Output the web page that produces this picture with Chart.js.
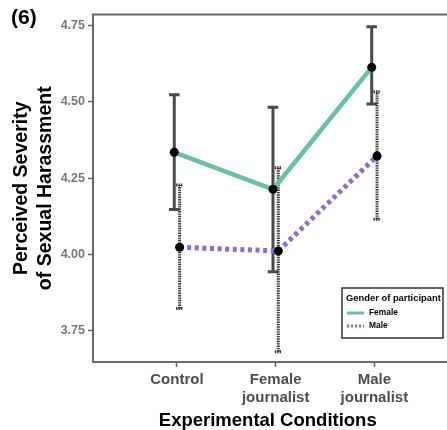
<!DOCTYPE html>
<html><head><meta charset="utf-8">
<script src="https://cdn.jsdelivr.net/npm/chart.js@4.4.1/dist/chart.umd.min.js"></script>
<style>html,body{margin:0;padding:0;background:#fff;overflow:hidden}#wrap{width:447px;height:430px;position:relative}</style>
</head><body><div id="wrap"><canvas id="c" width="447" height="430"></canvas></div>
<script>
const panelLabel = '(6)';
const categories = [['Control'], ['Female', 'journalist'], ['Male', 'journalist']];
const seriesNames = ['Female', 'Male'];
const legendTitle = 'Gender of participant';
const femaleMean = [4.335, 4.214, 4.613];
const femaleLow  = [4.148, 3.944, 4.493];
const femaleHigh = [4.523, 4.482, 4.746];
const maleMean = [4.024, 4.012, 4.323];
const maleLow  = [3.824, 3.682, 4.116];
const maleHigh = [4.228, 4.284, 4.533];
const yTicks = [3.75, 4.00, 4.25, 4.50, 4.75];

const FONT = "'Liberation Sans', Arial, Helvetica, sans-serif";
const DODGE = 0.027;
const GREEN = '#66c2a5';
const PURPLE = '#8e6bd0';
const BAR = '#4a4a4a';

function pts(mean, lo, hi, off) {
  return mean.map((v, i) => ({ x: i + 1 + off, y: v, lo: lo[i], hi: hi[i] }));
}

const decor = {
  id: 'decor',
  beforeDatasetsDraw(chart) {
    const ctx = chart.ctx, xs = chart.scales.x, ys = chart.scales.y;
    chart.data.datasets.forEach((ds, di) => {
      ctx.save();
      const dotted = di === 1;
      ctx.strokeStyle = dotted ? '#333' : BAR;
      ctx.lineWidth = 3;
      const cap = dotted ? 3.5 : 5.3;
      ds.data.forEach(p => {
        const x = xs.getPixelForValue(p.x);
        const y1 = ys.getPixelForValue(p.lo), y2 = ys.getPixelForValue(p.hi);
        ctx.setLineDash(dotted ? [1.4, 1.0] : []);
        ctx.beginPath(); ctx.moveTo(x, y1); ctx.lineTo(x, y2); ctx.stroke();
        ctx.setLineDash(dotted ? [1.4, 1.0] : []);
        ctx.beginPath();
        ctx.moveTo(x - cap, y1); ctx.lineTo(x + cap, y1);
        ctx.moveTo(x - cap, y2); ctx.lineTo(x + cap, y2);
        ctx.stroke();
      });
      ctx.restore();
    });
  },
  afterDraw(chart) {
    const ctx = chart.ctx, a = chart.chartArea;
    ctx.save();
    ctx.strokeStyle = '#6a6a6a';
    ctx.lineWidth = 2;
    ctx.beginPath();
    ctx.moveTo(chart.width + 2, a.top); ctx.lineTo(a.left, a.top);
    ctx.lineTo(a.left, a.bottom); ctx.lineTo(chart.width + 2, a.bottom);
    ctx.stroke();
    ctx.fillStyle = '#000';
    ctx.font = 'bold 21px ' + FONT;
    ctx.textBaseline = 'middle';
    ctx.textAlign = 'left';
    ctx.fillText(panelLabel, 11, 18);
    const lx = 342, ly = 288, lw = 101, lh = 50;
    ctx.fillStyle = '#fff';
    ctx.fillRect(lx, ly, lw, lh);
    ctx.strokeStyle = '#333';
    ctx.lineWidth = 1.5;
    ctx.strokeRect(lx, ly, lw, lh);
    ctx.fillStyle = '#000';
    ctx.font = 'bold 9.4px ' + FONT;
    ctx.fillText(legendTitle, lx + 4, ly + 10);
    const styles = [{ c: GREEN, d: [] }, { c: PURPLE, d: [2.2, 1.8] }];
    seriesNames.forEach((n, i) => {
      const yy = ly + 25 + i * 13;
      ctx.strokeStyle = styles[i].c;
      ctx.lineWidth = 3;
      ctx.setLineDash(styles[i].d);
      ctx.beginPath(); ctx.moveTo(lx + 5, yy); ctx.lineTo(lx + 22, yy); ctx.stroke();
      ctx.setLineDash([]);
      ctx.fillStyle = '#000';
      ctx.font = 'bold 8.4px ' + FONT;
      ctx.fillText(n, lx + 27, yy);
    });
    ctx.restore();
  }
};

new Chart(document.getElementById('c'), {
  type: 'line',
  data: {
    datasets: [
      { label: seriesNames[0], data: pts(femaleMean, femaleLow, femaleHigh, -DODGE),
        borderColor: GREEN, borderWidth: 4.5, pointRadius: 4.5, pointBackgroundColor: '#000',
        pointBorderWidth: 0, tension: 0 },
      { label: seriesNames[1], data: pts(maleMean, maleLow, maleHigh, DODGE),
        borderColor: PURPLE, borderWidth: 5, borderDash: [4, 3.6], pointRadius: 4.5,
        pointBackgroundColor: '#000', pointBorderWidth: 0, tension: 0 }
    ]
  },
  options: {
    responsive: false, animation: false, devicePixelRatio: 1,
    layout: { padding: { top: 14.5, left: 0, right: 0, bottom: 0 } },
    plugins: { legend: { display: false }, tooltip: { enabled: false }, title: { display: false } },
    scales: {
      x: {
        type: 'linear', min: 0.15, max: 3.69,
        afterBuildTicks(s) { s.ticks = categories.map((c, i) => ({ value: i + 1 })); },
        afterFit(s) { s.height = 68; s.paddingLeft = 0; s.paddingRight = 0; },
        ticks: { callback: (v, i) => categories[i], font: { family: FONT, size: 15, weight: 'bold', lineHeight: 1.25 },
          color: '#4d4d4d', padding: 3, maxRotation: 0, autoSkip: false },
        grid: { drawOnChartArea: false, drawTicks: true, tickLength: 5, color: '#666', tickWidth: 1.5 },
        border: { display: false },
        title: { display: true, text: 'Experimental Conditions', color: '#000',
          font: { family: FONT, size: 18.5, weight: 'bold', lineHeight: 1 }, padding: { top: 0, bottom: 0 } }
      },
      y: {
        type: 'linear', min: 3.6485, max: 4.786,
        afterBuildTicks(s) { s.ticks = yTicks.map(v => ({ value: v })); },
        afterFit(s) { s.width = 93; s.paddingTop = 0; s.paddingBottom = 0; },
        ticks: { callback: v => v.toFixed(2), font: { family: FONT, size: 12.5, weight: 'bold' },
          color: '#777', padding: 3 },
        grid: { drawOnChartArea: false, drawTicks: true, tickLength: 5, color: '#666', tickWidth: 1.5 },
        border: { display: false },
        title: { display: true, text: ['Perceived Severity', 'of Sexual Harassment'], color: '#000',
          font: { family: FONT, size: 19.5, weight: 'bold', lineHeight: 1.25 }, padding: { top: 9.25, bottom: 0 } }
      }
    }
  },
  plugins: [decor]
});
</script></body></html>
